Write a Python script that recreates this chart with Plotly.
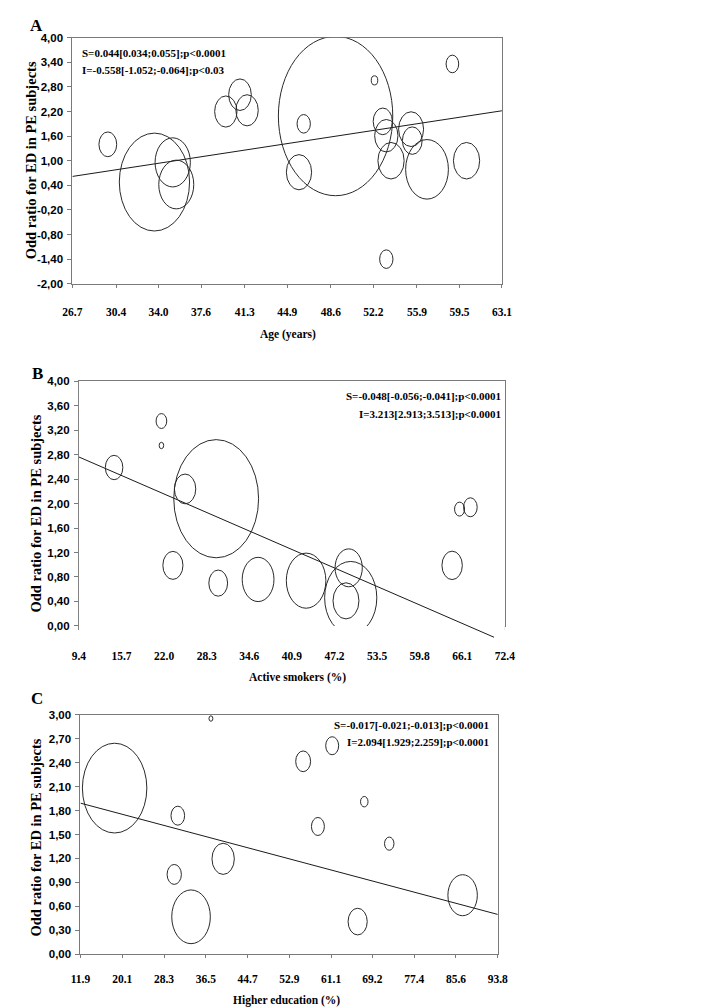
import plotly.graph_objects as go

W, H = 709, 1008

# ---------------- data ----------------
# Panel A: age
a_x = [29.7, 33.65, 35.2, 35.5, 39.7, 40.9, 41.5, 45.9, 46.3, 49.0, 52.3, 53.0, 53.3, 53.7, 53.3, 55.4, 55.5, 56.75, 58.9, 60.1]
a_y = [1.40, 0.48, 0.96, 0.42, 2.20, 2.61, 2.23, 0.72, 1.90, 2.09, 2.96, 1.96, 1.61, 1.00, -1.40, 1.77, 1.49, 0.79, 3.36, 1.00]
a_w = [18.3, 72.3, 36.3, 36.0, 23.0, 23.3, 23.0, 26.0, 13.7, 117.7, 6.7, 19.7, 24.0, 27.0, 13.7, 25.7, 20.3, 44.0, 13.0, 27.0]
a_slope, a_icpt = 0.044, -0.558
a_fit_x = [26.7, 63.1]
a_xticks = ["26.7", "30.4", "34.0", "37.6", "41.3", "44.9", "48.6", "52.2", "55.9", "59.5", "63.1"]
a_yticks = ["-2,00", "-1,40", "-0,80", "-0,20", "0,40", "1,00", "1,60", "2,20", "2,80", "3,40", "4,00"]
a_text = ["S=0.044[0.034;0.055];p<0.0001", "I=-0.558[-1.052;-0.064];p<0.03"]

# Panel B: active smokers
b_x = [14.6, 21.6, 21.6, 25.1, 29.7, 23.3, 30.0, 35.9, 43.0, 49.3, 49.6, 48.9, 64.6, 65.7, 67.3]
b_y = [2.59, 3.35, 2.95, 2.24, 2.08, 0.99, 0.70, 0.76, 0.74, 0.95, 0.46, 0.41, 0.99, 1.91, 1.94]
b_w = [18.0, 11.0, 4.7, 22.0, 87.3, 20.7, 19.3, 32.7, 40.7, 28.0, 53.7, 26.7, 21.0, 10.3, 14.0]
b_slope, b_icpt = -0.048, 3.213
b_fit_x = [9.4, 70.8]
b_xticks = ["9.4", "15.7", "22.0", "28.3", "34.6", "40.9", "47.2", "53.5", "59.8", "66.1", "72.4"]
b_yticks = ["0,00", "0,40", "0,80", "1,20", "1,60", "2,00", "2,40", "2,80", "3,20", "3,60", "4,00"]
b_text = ["S=-0.048[-0.056;-0.041];p<0.0001", "I=3.213[2.913;3.513];p<0.0001"]

# Panel C: higher education
c_x = [18.6, 37.5, 31.0, 30.3, 33.6, 39.9, 55.6, 61.3, 58.5, 67.6, 72.5, 66.3, 86.9]
c_y = [2.08, 2.95, 1.735, 1.00, 0.47, 1.195, 2.415, 2.61, 1.60, 1.91, 1.385, 0.41, 0.74]
c_w = [66.3, 4.0, 14.0, 14.7, 39.7, 23.0, 15.3, 13.3, 13.3, 7.7, 9.7, 19.7, 30.3]
c_slope, c_icpt = -0.017, 2.094
c_fit_x = [11.9, 93.8]
c_xticks = ["11.9", "20.1", "28.3", "36.5", "44.7", "52.9", "61.1", "69.2", "77.4", "85.6", "93.8"]
c_yticks = ["0,00", "0,30", "0,60", "0,90", "1,20", "1,50", "1,80", "2,10", "2,40", "2,70", "3,00"]
c_text = ["S=-0.017[-0.021;-0.013];p<0.0001", "I=2.094[1.929;2.259];p<0.0001"]

letters = ["A", "B", "C"]
xtitles = ["Age (years)", "Active smokers (%)", "Higher education (%)"]
ytitle = "Odd ratio for ED in PE subjects"

# ---------------- layout geometry (pixels) ----------------
boxes = [  # left, right, top, bottom
    (56, 498, 24, 273),
    (62.7, 501, 371.7, 619.3),
    (64.3, 493.7, 709, 951.7),
]
STRETCH = 1.37  # vertical stretch of the original bubbles
SERIF = "Liberation Serif"
SANS = "Liberation Sans"
AXC = "#7a7a7a"

panels = [
    (a_x, a_y, a_w, a_slope, a_icpt, a_fit_x, a_xticks, a_yticks, a_text),
    (b_x, b_y, b_w, b_slope, b_icpt, b_fit_x, b_xticks, b_yticks, b_text),
    (c_x, c_y, c_w, c_slope, c_icpt, c_fit_x, c_xticks, c_yticks, c_text),
]
text_pos = [  # anchor x of stats text, y centres of the two lines
    (64, 39, 57, "left"),
    (499, 386.7, 404.5, "right"),
    (487, 719.5, 737, "right"),
]
letter_pos = [(19, 12), (20, 364), (20, 693)]
ytitle_pos = [(13, 148.5), (18, 505), (19, 833)]
xtitle_pos = [(278, 324), (288, 671), (276, 998)]
standoffs = [14, 16, 11]

fig = go.Figure()
shapes = []
annotations = []

for i, (xs, ys, ws, slope, icpt, fitx, xt, yt, txt) in enumerate(panels):
    n = "" if i == 0 else str(i + 1)
    left, right, top, bottom = boxes[i]
    xr = [float(xt[0]), float(xt[-1])]
    yv = [float(t.replace(",", ".")) for t in yt]
    yr = [yv[0], yv[-1]]
    xdom = [left / W, right / W]
    ydom = [1 - bottom / H, 1 - top / H]

    fig.update_layout(**{
        "xaxis" + n: dict(domain=xdom, range=xr, anchor="y" + n, showgrid=False, zeroline=False,
                          showline=True, linecolor=AXC, linewidth=1, mirror=True,
                          ticks="outside", ticklen=3, tickcolor=AXC,
                          tickvals=[float(t) for t in xt], ticktext=xt,
                          ticklabelstandoff=standoffs[i],
                          tickfont=dict(family=SERIF, size=11.5, color="black", weight="bold")),
        "yaxis" + n: dict(domain=ydom, range=yr, anchor="x" + n, showgrid=False, zeroline=False,
                          showline=True, linecolor=AXC, linewidth=1, mirror=True,
                          ticks="outside", ticklen=4, tickcolor=AXC,
                          tickvals=yv, ticktext=yt, ticklabelstandoff=2,
                          tickfont=dict(family=SANS, size=11.5, color="black", weight="bold")),
    })

    # pixels per data unit
    ppx = (right - left) / (xr[1] - xr[0])
    ppy = (bottom - top) / (yr[1] - yr[0])
    for x, y, w in zip(xs, ys, ws):
        rx = w / 2 / ppx
        ry = w / 2 * STRETCH / ppy
        shapes.append(dict(type="circle", xref="x" + n, yref="y" + n,
                           x0=x - rx, x1=x + rx, y0=y - ry, y1=y + ry,
                           line=dict(color="#2a2a2a", width=1), fillcolor="rgba(0,0,0,0)", layer="above"))

    # regression line
    fy = [icpt + slope * v for v in fitx]
    if i == 1:
        # extended invisible axes so the fitted line can run slightly below the x axis
        ext_px = 20
        ext_units = ext_px / ppy
        fig.update_layout(
            xaxis4=dict(domain=xdom, range=xr, anchor="y4", visible=False),
            yaxis4=dict(domain=[1 - (bottom + ext_px) / H, 1 - top / H], range=[yr[0] - ext_units, yr[1]],
                        anchor="x4", visible=False),
        )
        fig.add_trace(go.Scatter(x=fitx, y=fy, mode="lines", line=dict(color="#1a1a1a", width=1),
                                 xaxis="x4", yaxis="y4", showlegend=False, hoverinfo="skip"))
    else:
        fig.add_trace(go.Scatter(x=fitx, y=fy, mode="lines", line=dict(color="#1a1a1a", width=1),
                                 xaxis="x" + n, yaxis="y" + n, showlegend=False, hoverinfo="skip"))

    # stats text
    tx, ty1, ty2, anc = text_pos[i]
    for t, ty in zip(txt, (ty1, ty2)):
        annotations.append(dict(text=t, x=tx / W, y=1 - ty / H, xref="paper", yref="paper",
                                xanchor=anc, yanchor="middle", showarrow=False,
                                font=dict(family=SERIF, size=11, color="black", weight="bold")))
    # panel letter
    lx, ly = letter_pos[i]
    annotations.append(dict(text=letters[i], x=lx / W, y=1 - ly / H, xref="paper", yref="paper",
                            xanchor="center", yanchor="middle", showarrow=False,
                            font=dict(family=SERIF, size=17, color="black", weight="bold")))
    # y title
    yx, yy = ytitle_pos[i]
    annotations.append(dict(text=ytitle, x=yx / W, y=1 - yy / H, xref="paper", yref="paper",
                            xanchor="center", yanchor="middle", showarrow=False, textangle=-90,
                            font=dict(family=SERIF, size=14.5, color="black", weight="bold")))
    # x title
    xx, xy = xtitle_pos[i]
    annotations.append(dict(text=xtitles[i], x=xx / W, y=1 - xy / H, xref="paper", yref="paper",
                            xanchor="center", yanchor="middle", showarrow=False,
                            font=dict(family=SERIF, size=11.5, color="black", weight="bold")))

fig.update_layout(width=W, height=H, margin=dict(l=0, r=0, t=0, b=0),
                  paper_bgcolor="white", plot_bgcolor="white",
                  shapes=shapes, annotations=annotations, showlegend=False)

fig.write_html("out.html")
